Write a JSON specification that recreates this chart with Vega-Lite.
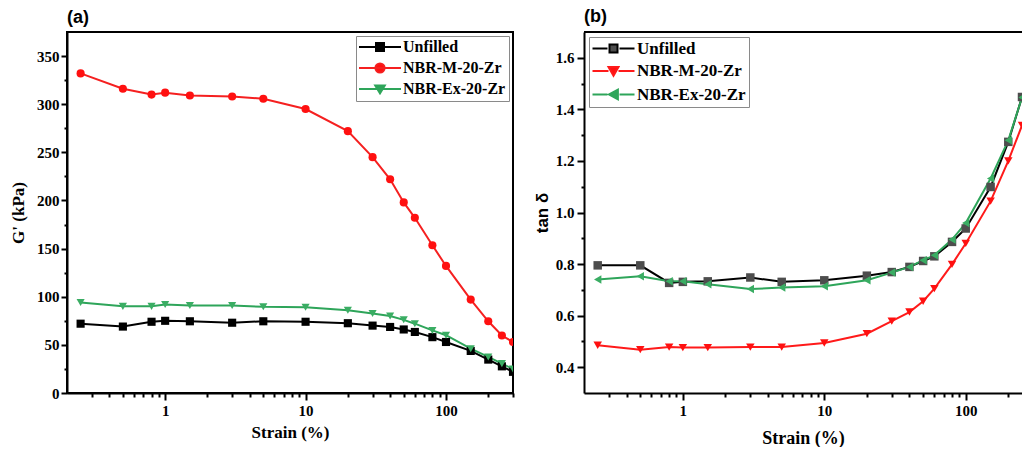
{
  "$schema": "https://vega.github.io/schema/vega-lite/v6.json",
  "background": "white",
  "padding": {"left": 8, "top": 8, "right": 0, "bottom": 0},
  "spacing": 18,
  "datasets": {
    "a": [
      {"s": "Unfilled", "x": 0.25, "y": 72}, {"s": "Unfilled", "x": 0.5, "y": 69}, {"s": "Unfilled", "x": 0.8, "y": 74}, {"s": "Unfilled", "x": 1, "y": 75}, {"s": "Unfilled", "x": 1.5, "y": 74.5}, {"s": "Unfilled", "x": 3, "y": 73}, {"s": "Unfilled", "x": 5, "y": 74.5}, {"s": "Unfilled", "x": 10, "y": 74}, {"s": "Unfilled", "x": 20, "y": 72.5}, {"s": "Unfilled", "x": 30, "y": 70}, {"s": "Unfilled", "x": 40, "y": 68.6}, {"s": "Unfilled", "x": 50, "y": 66}, {"s": "Unfilled", "x": 60, "y": 63.4}, {"s": "Unfilled", "x": 80, "y": 58}, {"s": "Unfilled", "x": 100, "y": 53}, {"s": "Unfilled", "x": 150, "y": 43.7}, {"s": "Unfilled", "x": 200, "y": 34.7}, {"s": "Unfilled", "x": 250, "y": 27.7}, {"s": "Unfilled", "x": 300, "y": 22},
      {"s": "NBR-M-20-Zr", "x": 0.25, "y": 332}, {"s": "NBR-M-20-Zr", "x": 0.5, "y": 316}, {"s": "NBR-M-20-Zr", "x": 0.8, "y": 310}, {"s": "NBR-M-20-Zr", "x": 1, "y": 312}, {"s": "NBR-M-20-Zr", "x": 1.5, "y": 309}, {"s": "NBR-M-20-Zr", "x": 3, "y": 308}, {"s": "NBR-M-20-Zr", "x": 5, "y": 305.6}, {"s": "NBR-M-20-Zr", "x": 10, "y": 295}, {"s": "NBR-M-20-Zr", "x": 20, "y": 272}, {"s": "NBR-M-20-Zr", "x": 30, "y": 245}, {"s": "NBR-M-20-Zr", "x": 40, "y": 222}, {"s": "NBR-M-20-Zr", "x": 50, "y": 198}, {"s": "NBR-M-20-Zr", "x": 60, "y": 182}, {"s": "NBR-M-20-Zr", "x": 80, "y": 153.5}, {"s": "NBR-M-20-Zr", "x": 100, "y": 132}, {"s": "NBR-M-20-Zr", "x": 150, "y": 97}, {"s": "NBR-M-20-Zr", "x": 200, "y": 74.5}, {"s": "NBR-M-20-Zr", "x": 250, "y": 59.7}, {"s": "NBR-M-20-Zr", "x": 300, "y": 53},
      {"s": "NBR-Ex-20-Zr", "x": 0.25, "y": 94}, {"s": "NBR-Ex-20-Zr", "x": 0.5, "y": 90}, {"s": "NBR-Ex-20-Zr", "x": 0.8, "y": 90}, {"s": "NBR-Ex-20-Zr", "x": 1, "y": 92}, {"s": "NBR-Ex-20-Zr", "x": 1.5, "y": 91}, {"s": "NBR-Ex-20-Zr", "x": 3, "y": 91}, {"s": "NBR-Ex-20-Zr", "x": 5, "y": 89.5}, {"s": "NBR-Ex-20-Zr", "x": 10, "y": 89}, {"s": "NBR-Ex-20-Zr", "x": 20, "y": 86}, {"s": "NBR-Ex-20-Zr", "x": 30, "y": 82.5}, {"s": "NBR-Ex-20-Zr", "x": 40, "y": 80}, {"s": "NBR-Ex-20-Zr", "x": 50, "y": 76}, {"s": "NBR-Ex-20-Zr", "x": 60, "y": 72}, {"s": "NBR-Ex-20-Zr", "x": 80, "y": 65}, {"s": "NBR-Ex-20-Zr", "x": 100, "y": 60}, {"s": "NBR-Ex-20-Zr", "x": 150, "y": 46}, {"s": "NBR-Ex-20-Zr", "x": 200, "y": 37.5}, {"s": "NBR-Ex-20-Zr", "x": 250, "y": 30.5}, {"s": "NBR-Ex-20-Zr", "x": 300, "y": 25}
    ],
    "b": [
      {"s": "Unfilled", "x": 0.25, "y": 0.795}, {"s": "Unfilled", "x": 0.5, "y": 0.795}, {"s": "Unfilled", "x": 0.8, "y": 0.727}, {"s": "Unfilled", "x": 1, "y": 0.731}, {"s": "Unfilled", "x": 1.5, "y": 0.733}, {"s": "Unfilled", "x": 3, "y": 0.748}, {"s": "Unfilled", "x": 5, "y": 0.731}, {"s": "Unfilled", "x": 10, "y": 0.737}, {"s": "Unfilled", "x": 20, "y": 0.755}, {"s": "Unfilled", "x": 30, "y": 0.769}, {"s": "Unfilled", "x": 40, "y": 0.789}, {"s": "Unfilled", "x": 50, "y": 0.812}, {"s": "Unfilled", "x": 60, "y": 0.83}, {"s": "Unfilled", "x": 80, "y": 0.886}, {"s": "Unfilled", "x": 100, "y": 0.938}, {"s": "Unfilled", "x": 150, "y": 1.099}, {"s": "Unfilled", "x": 200, "y": 1.274}, {"s": "Unfilled", "x": 250, "y": 1.448},
      {"s": "NBR-M-20-Zr", "x": 0.25, "y": 0.485}, {"s": "NBR-M-20-Zr", "x": 0.5, "y": 0.468}, {"s": "NBR-M-20-Zr", "x": 0.8, "y": 0.478}, {"s": "NBR-M-20-Zr", "x": 1, "y": 0.476}, {"s": "NBR-M-20-Zr", "x": 1.5, "y": 0.476}, {"s": "NBR-M-20-Zr", "x": 3, "y": 0.478}, {"s": "NBR-M-20-Zr", "x": 5, "y": 0.478}, {"s": "NBR-M-20-Zr", "x": 10, "y": 0.494}, {"s": "NBR-M-20-Zr", "x": 20, "y": 0.53}, {"s": "NBR-M-20-Zr", "x": 30, "y": 0.579}, {"s": "NBR-M-20-Zr", "x": 40, "y": 0.614}, {"s": "NBR-M-20-Zr", "x": 50, "y": 0.656}, {"s": "NBR-M-20-Zr", "x": 60, "y": 0.705}, {"s": "NBR-M-20-Zr", "x": 80, "y": 0.799}, {"s": "NBR-M-20-Zr", "x": 100, "y": 0.88}, {"s": "NBR-M-20-Zr", "x": 150, "y": 1.044}, {"s": "NBR-M-20-Zr", "x": 200, "y": 1.2}, {"s": "NBR-M-20-Zr", "x": 250, "y": 1.338},
      {"s": "NBR-Ex-20-Zr", "x": 0.25, "y": 0.74}, {"s": "NBR-Ex-20-Zr", "x": 0.5, "y": 0.753}, {"s": "NBR-Ex-20-Zr", "x": 0.8, "y": 0.733}, {"s": "NBR-Ex-20-Zr", "x": 1, "y": 0.733}, {"s": "NBR-Ex-20-Zr", "x": 1.5, "y": 0.722}, {"s": "NBR-Ex-20-Zr", "x": 3, "y": 0.703}, {"s": "NBR-Ex-20-Zr", "x": 5, "y": 0.709}, {"s": "NBR-Ex-20-Zr", "x": 10, "y": 0.714}, {"s": "NBR-Ex-20-Zr", "x": 20, "y": 0.737}, {"s": "NBR-Ex-20-Zr", "x": 30, "y": 0.767}, {"s": "NBR-Ex-20-Zr", "x": 40, "y": 0.789}, {"s": "NBR-Ex-20-Zr", "x": 50, "y": 0.815}, {"s": "NBR-Ex-20-Zr", "x": 60, "y": 0.834}, {"s": "NBR-Ex-20-Zr", "x": 80, "y": 0.895}, {"s": "NBR-Ex-20-Zr", "x": 100, "y": 0.959}, {"s": "NBR-Ex-20-Zr", "x": 150, "y": 1.132}, {"s": "NBR-Ex-20-Zr", "x": 200, "y": 1.28}, {"s": "NBR-Ex-20-Zr", "x": 250, "y": 1.446}
    ]
  },
  "config": {
    "view": {"stroke": "black", "strokeWidth": 2},
    "axis": {"domainColor": "black", "domainWidth": 2, "tickColor": "black", "tickWidth": 2, "labelFont": "Liberation Serif", "labelFontWeight": "bold", "labelFontSize": 15, "labelColor": "black", "titleFont": "Liberation Serif", "titleFontWeight": "bold", "titleFontSize": 17, "titleColor": "black", "grid": false},
    "legend": {"title": null, "strokeColor": "#8a8a8a", "labelFont": "Liberation Serif", "labelFontWeight": "bold", "labelColor": "black", "symbolSize": 100, "symbolStrokeWidth": 2, "symbolOpacity": 1, "symbolOffset": 13, "labelOffset": 15},
    "title": {"font": "Liberation Sans", "fontWeight": "bold", "fontSize": 18, "color": "black", "anchor": "start", "frame": "group", "offset": 5}
  },
  "resolve": {"scale": {"color": "independent", "fill": "independent", "shape": "independent"}, "legend": {"color": "independent", "fill": "independent", "shape": "independent"}},
  "hconcat": [
    {
      "width": 446,
      "height": 361,
      "title": "(a)",
      "data": {"name": "a"},
      "resolve": {"axis": {"x": "independent", "y": "independent"}},
      "layer": [
        {
          "mark": {"type": "line", "strokeWidth": 2, "clip": true},
          "encoding": {
            "x": {"field": "x", "type": "quantitative", "scale": {"type": "log", "domain": [0.2, 300], "nice": false},
              "axis": {"orient": "bottom", "values": [1, 10, 100], "labelExpr": "format(datum.value, 'd')", "tickSize": 7, "labelPadding": 3, "title": "Strain (%)", "titlePadding": 6, "titleFontSize": 17}},
            "y": {"field": "y", "type": "quantitative", "scale": {"domain": [0, 375], "nice": false, "zero": false},
              "axis": {"orient": "left", "values": [0, 50, 100, 150, 200, 250, 300, 350], "tickSize": 6, "labelPadding": 2, "title": "G' (kPa)", "titlePadding": 9}},
            "color": {"field": "s", "type": "nominal",
              "scale": {"domain": ["Unfilled", "NBR-M-20-Zr", "NBR-Ex-20-Zr"], "range": ["black", "#f52020", "#2ea55a"]},
              "legend": {"orient": "top-right", "offset": 4, "padding": 3, "rowPadding": 4, "labelFontSize": 16,
                "encode": {"symbols": {"update": {
                  "shape": {"signal": "datum.value === 'Unfilled' ? 'M-4.2,0L4.2,0M-0.8,-0.8L0.8,-0.8L0.8,0.8L-0.8,0.8Z' : datum.value === 'NBR-M-20-Zr' ? 'M-4.2,0L4.2,0M-0.92,0A0.92,0.92,0,1,1,0.92,0A0.92,0.92,0,1,1,-0.92,0Z' : 'M-4.2,0L4.2,0M-0.96,-0.72L0.96,-0.72L0,0.88Z'"},
                  "fill": {"signal": "datum.value === 'Unfilled' ? 'black' : datum.value === 'NBR-M-20-Zr' ? '#ff1010' : '#2ea55a'"},
                  "stroke": {"signal": "datum.value === 'Unfilled' ? 'black' : datum.value === 'NBR-M-20-Zr' ? '#f52020' : '#2ea55a'"},
                  "strokeWidth": {"value": 2},
                  "opacity": {"value": 1}
                }}}}}
          }
        },
        {
          "mark": {"type": "point", "filled": true, "size": 66, "opacity": 1, "clip": true},
          "encoding": {
            "x": {"field": "x", "type": "quantitative", "scale": {"type": "log", "domain": [0.2, 300], "nice": false},
              "axis": {"orient": "bottom", "values": [0.3, 0.4, 0.5, 0.6, 0.7, 0.8, 0.9, 2, 3, 4, 5, 6, 7, 8, 9, 20, 30, 40, 50, 60, 70, 80, 90, 200, 300], "labels": false, "domain": false, "tickSize": 4, "title": null}},
            "y": {"field": "y", "type": "quantitative", "scale": {"domain": [0, 375], "nice": false, "zero": false},
              "axis": {"orient": "left", "values": [25, 75, 125, 175, 225, 275, 325], "labels": false, "domain": false, "tickSize": 3, "title": null}},
            "fill": {"field": "s", "type": "nominal", "scale": {"range": ["#3aad63", "#ff1010", "black"]}, "legend": null},
            "shape": {"field": "s", "type": "nominal", "scale": {"range": ["triangle-down", "circle", "square"]}, "legend": null}
          }
        }
      ]
    },
    {
      "width": 438,
      "height": 361,
      "title": "(b)",
      "view": {"stroke": null},
      "data": {"name": "b"},
      "resolve": {"axis": {"x": "independent", "y": "independent"}},
      "layer": [
        {
          "mark": {"type": "line", "strokeWidth": 2, "clip": true},
          "encoding": {
            "x": {"field": "x", "type": "quantitative", "scale": {"type": "log", "domain": [0.2, 250], "nice": false},
              "axis": {"orient": "bottom", "values": [1, 10, 100], "labelExpr": "format(datum.value, 'd')", "tickSize": 7, "labelPadding": 3, "title": "Strain (%)", "titlePadding": 11, "titleFontSize": 18}},
            "y": {"field": "y", "type": "quantitative", "scale": {"domain": [0.3, 1.7], "nice": false, "zero": false},
              "axis": {"orient": "left", "values": [0.4, 0.6, 0.8, 1.0, 1.2, 1.4, 1.6], "format": ".1f", "tickSize": 7, "labelPadding": 3, "title": "tan δ", "titleFont": "Liberation Sans", "titleFontSize": 17, "titlePadding": 4}},
            "color": {"field": "s", "type": "nominal",
              "scale": {"domain": ["Unfilled", "NBR-M-20-Zr", "NBR-Ex-20-Zr"], "range": ["black", "#ff1a1a", "#2ea55a"]},
              "legend": {"orient": "top-left", "offset": 5, "padding": 3, "rowPadding": 4.5, "labelFontSize": 17,
                "encode": {"symbols": {"update": {
                  "shape": {"signal": "datum.value === 'Unfilled' ? 'M-4.2,0L-1.2,0M1.2,0L4.2,0M-0.8,-0.8L0.8,-0.8L0.8,0.8L-0.8,0.8Z' : datum.value === 'NBR-M-20-Zr' ? 'M-4.2,0L-1,0M1,0L4.2,0M-1,-0.8L1,-0.8L0,0.96Z' : 'M-4.2,0L-1.2,0M1.2,0L4.2,0M-0.88,0L0.88,-0.96L0.88,0.96Z'"},
                  "fill": {"signal": "datum.value === 'Unfilled' ? '#4d4d4d' : datum.value === 'NBR-M-20-Zr' ? '#ff1010' : '#2ea55a'"},
                  "stroke": {"signal": "datum.value === 'Unfilled' ? 'black' : datum.value === 'NBR-M-20-Zr' ? '#ff1a1a' : '#2ea55a'"},
                  "strokeWidth": {"value": 2},
                  "opacity": {"value": 1}
                }}}}}
          }
        },
        {
          "mark": {"type": "point", "filled": true, "size": 72, "opacity": 1, "clip": true},
          "encoding": {
            "x": {"field": "x", "type": "quantitative", "scale": {"type": "log", "domain": [0.2, 250], "nice": false},
              "axis": {"orient": "bottom", "values": [0.3, 0.4, 0.5, 0.6, 0.7, 0.8, 0.9, 2, 3, 4, 5, 6, 7, 8, 9, 20, 30, 40, 50, 60, 70, 80, 90, 200], "labels": false, "domain": false, "tickSize": 4, "title": null}},
            "y": {"field": "y", "type": "quantitative", "scale": {"domain": [0.3, 1.7], "nice": false, "zero": false},
              "axis": {"orient": "left", "values": [0.5, 0.7, 0.9, 1.1, 1.3, 1.5], "labels": false, "domain": false, "tickSize": 3, "title": null}},
            "fill": {"field": "s", "type": "nominal", "scale": {"range": ["#3aad63", "#ff1010", "#4d4d4d"]}, "legend": null},
            "shape": {"field": "s", "type": "nominal", "scale": {"range": ["triangle-left", "triangle-down", "square"]}, "legend": null}
          }
        },
        {
          "data": {"values": [{}]},
          "mark": {"type": "rule", "strokeWidth": 2, "color": "black"},
          "encoding": {"y": {"datum": 1.7, "type": "quantitative", "axis": null}}
        }
      ]
    }
  ]
}
